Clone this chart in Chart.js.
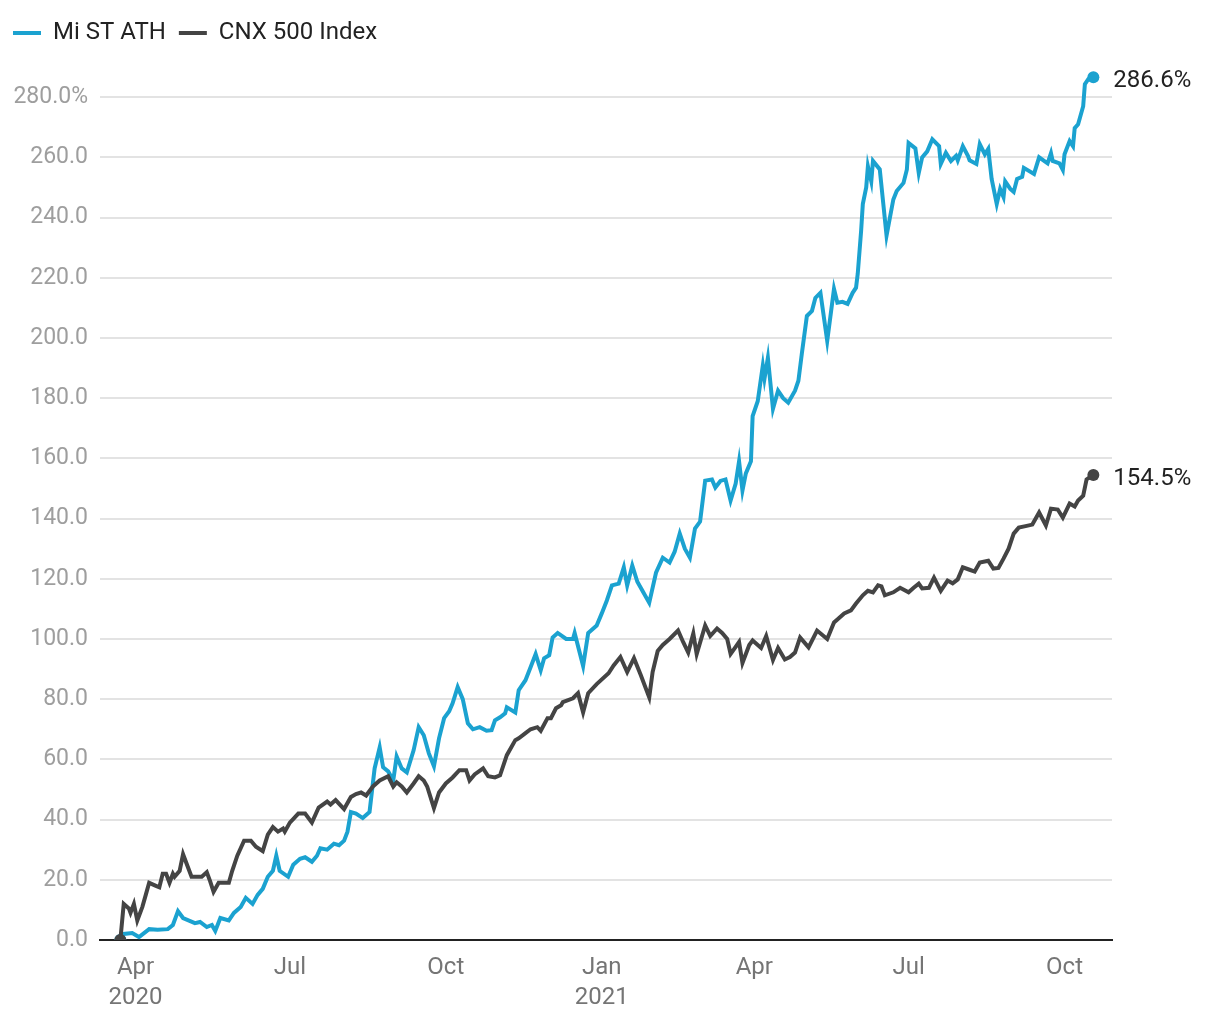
<!DOCTYPE html>
<html>
<head>
<meta charset="utf-8">
<script src="https://cdn.jsdelivr.net/npm/chart.js@4.4.1/dist/chart.umd.min.js"></script>
<style>
  body { margin: 0; background: #fff; }
  #wrap { width: 1220px; height: 1020px; }
</style>
</head>
<body>
<div id="wrap"><canvas id="perfChart" width="1220" height="1020"></canvas></div>
<script>
// ==========================================
// DATA (x values are calendar days since 23 Mar 2020)
// ==========================================
const startDate = '2020-03-23';

const athDays = [0, 2, 7, 11, 17, 22, 28, 31, 34, 37, 44, 47, 51, 54, 56, 59, 64, 67, 71, 74, 78, 81, 84, 87, 90, 92, 94, 99, 102, 106, 109, 113, 116, 118, 122, 126, 129, 132, 134, 136, 139, 143, 147, 150, 153, 155, 158, 161, 163, 166, 169, 173, 176, 179, 182, 185, 188, 191, 194, 196, 199, 202, 205, 208, 212, 216, 219, 221, 224, 227, 228, 233, 235, 239, 242, 245, 248, 250, 253, 255, 258, 263, 267, 268, 273, 276, 281, 284, 287, 290, 294, 297, 299, 302, 305, 308, 312, 316, 320, 324, 327, 330, 333, 336, 339, 342, 345, 349, 351, 354, 357, 360, 363, 365, 367, 369, 372, 373, 376, 379, 380, 382, 385, 388, 391, 394, 398, 400, 402, 405, 408, 410, 413, 417, 421, 423, 426, 429, 432, 434, 435, 437, 438, 440, 441, 443, 444, 448, 452, 456, 458, 462, 464, 465, 469, 471, 473, 476, 479, 483, 484, 487, 490, 493, 494, 497, 500, 501, 505, 507, 510, 512, 514, 517, 519, 521, 522, 525, 527, 529, 532, 533, 539, 542, 547, 549, 550, 554, 556, 557, 560, 562, 563, 565, 568, 569, 571, 574];
const athValues = [0, 2, 2.3, 1, 3.6, 3.4, 3.6, 5, 9.6, 7.3, 5.6, 6, 4.3, 5, 3, 7.3, 6.5, 9, 11, 14, 12, 15, 17, 21, 23, 28, 23, 21, 25, 27, 27.5, 26, 28, 30.5, 30, 32, 31.5, 33, 36, 42.5, 42, 40.5, 42.5, 57, 64, 57.4, 56, 53, 61, 57, 55.7, 63, 70.7, 68, 62, 57.7, 67, 73.7, 76, 78.6, 84, 80, 72, 70, 70.7, 69.5, 69.7, 73, 74, 75.3, 77.3, 75.6, 83, 86.3, 90.6, 95, 89.6, 93.6, 94.6, 100.5, 102, 100, 100, 102, 91, 102, 104.5, 108.5, 112.8, 117.8, 118.4, 123.8, 117.8, 124.4, 119, 116, 112, 122, 127, 125.4, 129, 135, 130, 127, 136.7, 139, 152.6, 153, 150.3, 152.5, 153, 146, 151.6, 159, 149.3, 155, 159, 174, 179, 190.8, 186.5, 193.4, 176.5, 182.5, 180, 178.5, 182.5, 185.8, 194.7, 207.3, 209, 213.3, 215, 199, 216.3, 211.7, 212, 211.3, 215, 216.7, 221.3, 235.6, 244.5, 250, 257, 252, 258.8, 256, 234, 246, 248.8, 251.5, 256, 264.8, 263, 254.8, 260, 262, 266, 263.7, 257.8, 261.5, 258.8, 260.5, 259, 263.7, 260.5, 259, 257.8, 264.4, 261, 262.8, 252.8, 244.5, 249.5, 246.8, 252, 249.5, 248.5, 252.8, 253.5, 256.5, 254.5, 260, 258, 261.4, 258.8, 258, 255.8, 261, 265.4, 263.7, 269.7, 271, 277, 284.3, 286, 286.6];

const cnxDays = [0, 2, 5, 6, 8, 10, 13, 15, 17, 21, 23, 25, 27, 29, 31, 32, 35, 37, 40, 42, 45, 48, 51, 53, 55, 58, 61, 64, 66, 69, 73, 77, 80, 84, 87, 90, 93, 96, 97, 100, 105, 109, 113, 117, 122, 124, 127, 132, 136, 139, 142, 145, 149, 153, 158, 161, 163, 166, 169, 173, 176, 179, 181, 185, 188, 192, 196, 200, 204, 206, 209, 214, 217, 221, 224, 228, 233, 235, 239, 242, 246, 248, 252, 254, 257, 260, 261, 267, 270, 273, 276, 281, 288, 291, 295, 299, 303, 307, 312, 314, 317, 320, 324, 329, 332, 335, 338, 340, 345, 348, 352, 355, 358, 360, 365, 367, 371, 373, 378, 381, 385, 388, 392, 395, 398, 401, 406, 411, 417, 421, 424, 427, 431, 434, 438, 441, 444, 447, 449, 451, 456, 460, 465, 468, 471, 473, 477, 480, 484, 488, 491, 494, 497, 501, 504, 507, 512, 515, 518, 521, 524, 527, 530, 534, 538, 542, 546, 549, 553, 556, 560, 563, 565, 568, 570, 574];
const cnxValues = [0, 12, 10.5, 9, 12, 6.5, 11, 15, 19, 18, 17.5, 22, 22, 19, 22, 21, 23, 28.5, 24, 21, 21, 21, 22.5, 19.5, 16, 19, 19, 19, 23, 28, 33, 33, 31, 29.5, 35, 37.5, 36, 37, 36, 39, 42, 42, 39, 44, 46, 45, 46.5, 43.5, 47.5, 48.5, 49, 48, 51, 53, 54.4, 51, 52.4, 51, 49, 52, 54.4, 53, 51, 43.8, 49, 52, 54, 56.4, 56.4, 53, 55, 57, 54.4, 54, 54.7, 61.4, 66.4, 67, 68.7, 70, 70.7, 69.5, 73.7, 73.7, 77, 78, 79, 80.3, 82, 75.6, 82, 85, 88.6, 91.2, 94, 89, 93.6, 88, 80.6, 89, 96, 98, 100, 102.8, 99, 95.5, 101.8, 95, 104.5, 101, 103.5, 102, 100, 95, 99, 92, 98, 99.5, 97, 101, 93, 97, 93.2, 94, 95.5, 100.5, 97.2, 102.8, 100, 105.5, 107, 108.5, 109.5, 111.8, 114.5, 116, 115.5, 117.8, 117.5, 114.5, 115.5, 117, 115.5, 117, 118.4, 116.8, 117, 120.4, 116, 119.4, 118.5, 119.8, 123.8, 123, 122.4, 125.4, 126, 123.4, 123.6, 126.7, 130, 135, 137, 137.5, 138, 142, 137.7, 143.3, 143, 140.3, 145, 144, 146, 147.6, 153, 154.5];

const tickDates = ['2020-04-01', '2020-07-01', '2020-10-01', '2021-01-01', '2021-04-01', '2021-07-01', '2021-10-01'];
const tickLabels = [['Apr', '2020'], 'Jul', 'Oct', ['Jan', '2021'], 'Apr', 'Jul', 'Oct'];
const yTicks = [0, 20, 40, 60, 80, 100, 120, 140, 160, 180, 200, 220, 240, 260, 280];

// ==========================================
// HELPERS
// ==========================================
const dayMs = 86400000;
const dayOf = (s) => {
    const p = s.split('-').map(Number);
    const b = startDate.split('-').map(Number);
    return Math.round((Date.UTC(p[0], p[1] - 1, p[2]) - Date.UTC(b[0], b[1] - 1, b[2])) / dayMs);
};
const tickDays = tickDates.map(dayOf);
const toPoints = (days, vals) => days.map((d, i) => ({ x: d, y: vals[i] }));
// dot only on first and last point
const endDots = (ctx) => {
    const n = ctx.dataset.data.length;
    return (ctx.dataIndex === 0 || ctx.dataIndex === n - 1) ? 6 : 0;
};

// Percent label next to each line's last point
const endLabels = {
    id: 'endLabels',
    afterDatasetsDraw(chart) {
        const ctx = chart.ctx;
        ctx.save();
        ctx.font = '24px Roboto';
        ctx.fillStyle = '#222';
        ctx.textBaseline = 'middle';
        ctx.textAlign = 'left';
        chart.data.datasets.forEach((ds, i) => {
            const meta = chart.getDatasetMeta(i);
            const pt = meta.data[meta.data.length - 1];
            const v = ds.data[ds.data.length - 1].y;
            ctx.fillText(v.toFixed(1) + '%', pt.x + 20, pt.y + 4);
        });
        ctx.restore();
    }
};

// ==========================================
// CHART
// ==========================================
const ctx = document.getElementById('perfChart').getContext('2d');
new Chart(ctx, {
    type: 'line',
    data: {
        datasets: [
            {
                label: 'Mi ST ATH',
                data: toPoints(athDays, athValues),
                borderColor: '#1ba2d0',
                backgroundColor: '#1ba2d0',
                borderWidth: 4,
                pointRadius: endDots,
                pointBorderWidth: 0,
                tension: 0,
                order: 2
            },
            {
                label: 'CNX 500 Index',
                data: toPoints(cnxDays, cnxValues),
                borderColor: '#444444',
                backgroundColor: '#444444',
                borderWidth: 4,
                pointRadius: endDots,
                pointBorderWidth: 0,
                tension: 0,
                order: 1
            }
        ]
    },
    options: {
        responsive: false,
        animation: false,
        events: [],
        layout: { padding: { top: 8, right: 108, bottom: 0, left: 0 } },
        font: { family: 'Roboto' },
        plugins: {
            tooltip: { enabled: false },
            legend: {
                position: 'top',
                align: 'start',
                labels: {
                    font: { family: 'Roboto', size: 24 },
                    color: '#222',
                    boxWidth: 28,
                    boxHeight: 4,
                    padding: 13,
                    sort: (a, b) => a.datasetIndex - b.datasetIndex,
                    generateLabels(chart) {
                        const items = Chart.defaults.plugins.legend.labels.generateLabels(chart);
                        items.forEach(it => { it.lineWidth = 0; it.fillStyle = it.strokeStyle; });
                        return items;
                    }
                }
            }
        },
        scales: {
            x: {
                type: 'linear',
                min: -12,
                max: 585,
                afterBuildTicks: (axis) => { axis.ticks = tickDays.map(v => ({ value: v })); },
                afterFit: (axis) => { axis.height = 80; },
                ticks: {
                    autoSkip: false,
                    maxRotation: 0,
                    padding: 13,
                    color: '#757575',
                    font: { family: 'Roboto', size: 24, lineHeight: 1.25 },
                    callback: (v) => tickLabels[tickDays.indexOf(v)]
                },
                grid: { display: false, drawTicks: false },
                border: { display: true, color: '#222', width: 2 }
            },
            y: {
                min: 0,
                max: 294,
                afterBuildTicks: (axis) => { axis.ticks = yTicks.map(v => ({ value: v })); },
                afterFit: (axis) => { axis.width = 100; },
                ticks: {
                    padding: 12,
                    color: '#9e9e9e',
                    font: { family: 'Roboto', size: 23 },
                    callback: (v) => v === 280 ? '280.0%' : v.toFixed(1)
                },
                grid: { color: '#e3e3e3', lineWidth: 2, drawTicks: false },
                border: { display: false }
            }
        }
    },
    plugins: [endLabels]
});
</script>
</body>
</html>
